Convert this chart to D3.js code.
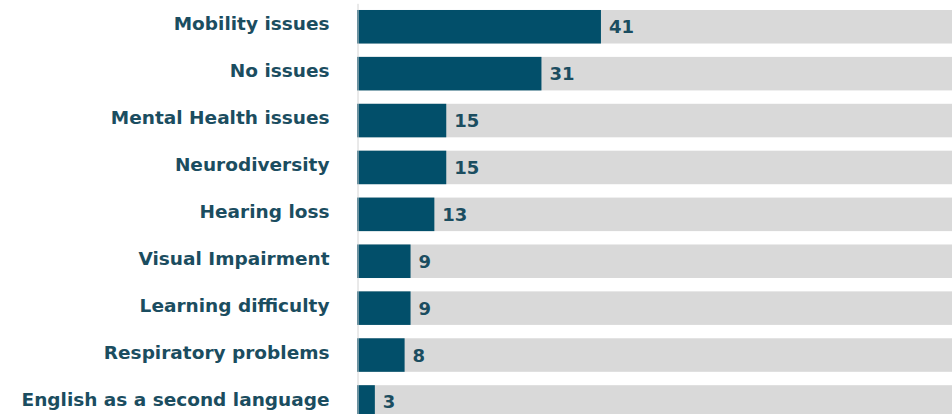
<!DOCTYPE html>
<html>
<head>
<meta charset="utf-8">
<script src="https://cdn.jsdelivr.net/npm/d3@7"></script>
<style>
  html, body { margin: 0; padding: 0; background: #fff; overflow: hidden; }
  svg { display: block; }
  .label text, .value { font-family: "DejaVu Sans", sans-serif; font-weight: bold; fill: #1b4d60; }
</style>
</head>
<body>
<svg id="chart" width="952" height="414"></svg>
<script>

// data
const categories = [
    "Mobility issues",
    "No issues",
    "Mental Health issues",
    "Neurodiversity",
    "Hearing loss",
    "Visual Impairment",
    "Learning difficulty",
    "Respiratory problems",
    "English as a second language"
];
const counts = [41, 31, 15, 15, 13, 9, 9, 8, 3];
const totalScale = 100;   // grey track behind each bar

let svg = d3.select("#chart");

let x = d3.scaleLinear()
    .domain([0, totalScale])
    .range([357, 952]);

let y = d3.scaleBand()
    .domain(categories)
    .range([3.3, 3.3 + 9 * 46.9])
    .paddingInner(0.285)
    .paddingOuter(0.1425);

let rows = categories.map((c, i) => ({ name: c, value: counts[i] }));

// grey tracks
svg.append("g")
    .selectAll("rect")
    .data(rows)
    .join("rect")
    .attr("x", x(0))
    .attr("y", d => y(d.name))
    .attr("width", x(totalScale) - x(0))
    .attr("height", y.bandwidth())
    .attr("fill", "#d9d9d9");

// value bars
svg.append("g")
    .selectAll("rect")
    .data(rows)
    .join("rect")
    .attr("x", x(0))
    .attr("y", d => y(d.name))
    .attr("width", d => x(d.value) - x(0))
    .attr("height", y.bandwidth())
    .attr("fill", "#024f6a");

// category axis
let axis = svg.append("g")
    .attr("class", "label")
    .attr("transform", `translate(${x(0) + 0.5},0)`)
    .call(d3.axisLeft(y).tickSize(0).tickPadding(28));

axis.select(".domain").attr("stroke", "#d4d4d4");
axis.selectAll("text")
    .attr("font-size", 18.5)
    .attr("dy", "0.2em");

// value labels
svg.append("g")
    .selectAll("text")
    .data(rows)
    .join("text")
    .attr("class", "value")
    .attr("x", d => x(d.value) + 8)
    .attr("y", d => y(d.name) + y.bandwidth() / 2)
    .attr("dy", "0.36em")
    .attr("font-size", 18)
    .text(d => d.value);

</script>
</body>
</html>
